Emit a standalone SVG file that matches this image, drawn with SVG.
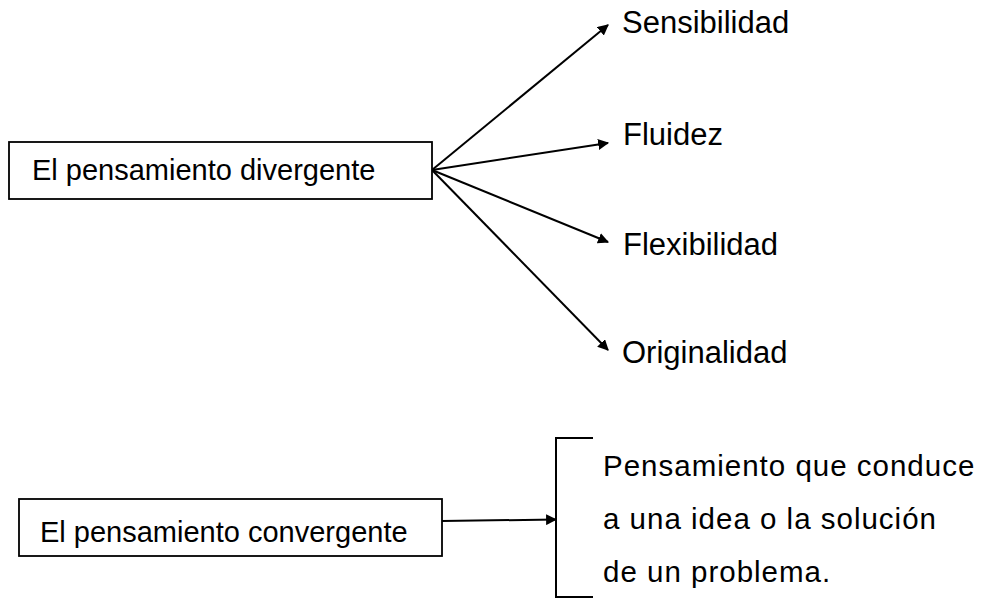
<svg xmlns="http://www.w3.org/2000/svg" width="982" height="599" viewBox="0 0 982 599">
<style>
.box{fill:#fff;stroke:#000;stroke-width:1.8}
.t{font-family:"Liberation Sans",Arial,sans-serif;fill:#000}
.edge{stroke:#000;stroke-width:2;fill:none}
</style>
<defs>
<marker id="ah" viewBox="0 0 10 10" refX="9" refY="5" markerWidth="5.5" markerHeight="5.5" orient="auto" markerUnits="strokeWidth">
<path d="M0,0 L10,5 L0,10 z" fill="#000"/>
</marker>
</defs>
<rect width="982" height="599" fill="#fff"/>
<g id="connectors">
<line class="edge" x1="432" y1="170" x2="608" y2="25" marker-end="url(#ah)"/>
<line class="edge" x1="432" y1="170" x2="608" y2="143" marker-end="url(#ah)"/>
<line class="edge" x1="432" y1="170" x2="608" y2="242" marker-end="url(#ah)"/>
<line class="edge" x1="432" y1="170" x2="608" y2="350" marker-end="url(#ah)"/>
<line class="edge" x1="442" y1="521" x2="556" y2="519.5" marker-end="url(#ah)"/>
</g>
<g id="divergente">
<rect class="box" x="9" y="142" width="423" height="57"/>
<text class="t" x="32" y="180" font-size="29">El pensamiento divergente</text>
</g>
<g id="sensibilidad"><text class="t" x="622" y="33" font-size="31">Sensibilidad</text></g>
<g id="fluidez"><text class="t" x="623" y="145" font-size="31">Fluidez</text></g>
<g id="flexibilidad"><text class="t" x="623" y="255" font-size="31">Flexibilidad</text></g>
<g id="originalidad"><text class="t" x="622" y="363" font-size="31">Originalidad</text></g>
<g id="convergente">
<rect class="box" x="19" y="499" width="423" height="57"/>
<text class="t" x="40" y="542" font-size="29">El pensamiento convergente</text>
</g>
<g id="definicion">
<path class="edge" d="M593,438 H556 V597 H593" stroke-width="1.8"/>
<text class="t" font-size="29.5" letter-spacing="1">
<tspan x="603" y="476">Pensamiento que conduce</tspan>
<tspan x="603" y="529">a una idea o la solución</tspan>
<tspan x="603" y="582">de un problema.</tspan>
</text>
</g>
</svg>
